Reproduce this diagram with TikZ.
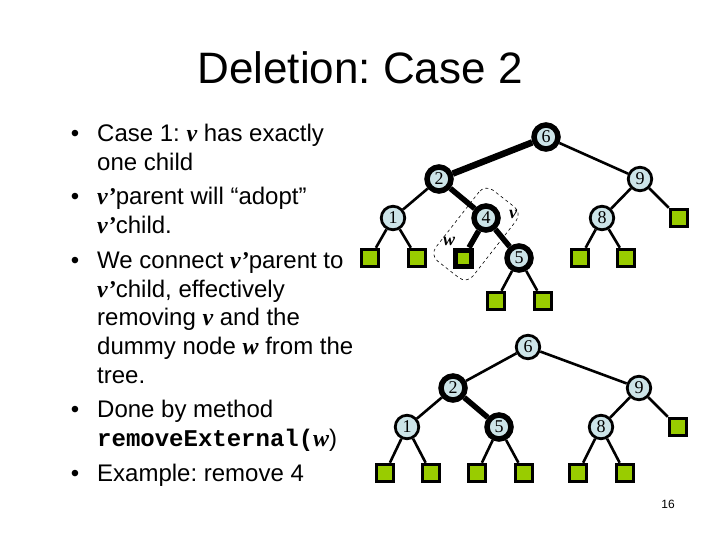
\documentclass[tikz,border=0pt]{standalone}
\usepackage{fontspec}
\setmainfont{Liberation Sans}
\newfontfamily\tnrfont{Liberation Serif}
\newfontfamily\codefont{Liberation Mono}
\usepackage{tikz}
\usetikzlibrary{backgrounds}
\frenchspacing

\definecolor{keyblue}{RGB}{204,228,232}
\definecolor{leafgreen}{RGB}{153,204,0}
\newcommand{\bi}[1]{{\tnrfont\bfseries\itshape #1}}

\begin{document}
\begin{tikzpicture}[x=1pt,y=-1pt]
\tikzstyle{every node}=[inner sep=0pt];
\tikzstyle{key}=[draw,shape=circle,fill=keyblue,minimum size=23.5pt,line width=2.8pt,font=\tnrfont\fontsize{18}{18}\selectfont];
\tikzstyle{hot}=[key,minimum size=24pt,line width=5.5pt];
\tikzstyle{leaf}=[draw,shape=rectangle,fill=leafgreen,minimum size=17.5pt,line width=3pt];
\tikzstyle{edge}=[line width=2.6pt];
\tikzstyle{hot edge}=[line width=5.5pt];
\tikzstyle{item}=[anchor=north west,align=left,font=\fontsize{24}{28.6}\selectfont];
\tikzstyle{tag}=[font=\tnrfont\bfseries\itshape\fontsize{18}{18}\selectfont];
\useasboundingbox (0,0) rectangle (720,540);

% title
\node[font=\fontsize{44}{44}\selectfont,anchor=base] (title) at (360,84) {Deletion: Case 2};

% bullets
\node[item] (b1) at (97,121.5) {\llap{\textbullet\hspace{18pt}}\strut Case 1: \bi{v} has exactly\\one child};
\node[item] (b2) at (97,184.5) {\llap{\textbullet\hspace{18pt}}\strut\bi{v’}parent will “adopt”\\\bi{v’}child.};
\node[item] (b3) at (97,248.5) {\llap{\textbullet\hspace{18pt}}\strut We connect \bi{v’}parent to\\\bi{v’}child, effectively\\removing \bi{v} and the\\dummy node \bi{w} from the\\tree.};
\node[item] (b4) at (97,397.5) {\llap{\textbullet\hspace{18pt}}\strut Done by method\\{\codefont\bfseries removeExternal(}\bi{w})};
\node[item] (b5) at (97,461.5) {\llap{\textbullet\hspace{18pt}}\strut Example: remove 4};

% tree before removal
\node[hot] (t6) at (546,137) {6};
\node[hot] (t2) at (439,179) {2};
\node[key] (t9) at (640,179) {9};
\node[key] (t1) at (393,218) {1};
\node[hot] (t4) at (486,218) {4};
\node[key] (t8) at (602,218) {8};
\node[leaf] (t9r) at (679,218) {};
\node[leaf] (t1l) at (370,258) {};
\node[leaf] (t1r) at (417,258) {};
\node[leaf,line width=5pt,minimum size=16pt] (tw) at (463,258) {};
\node[hot] (t5) at (519,258) {5};
\node[leaf] (t8l) at (580,258) {};
\node[leaf] (t8r) at (626,258) {};
\node[leaf] (t5l) at (496,301) {};
\node[leaf] (t5r) at (543,301) {};
\node[tag] (vtag) at (513,214) {v};
\node[tag] (wtag) at (449,241) {w};
\node[draw,dashed,rounded corners=10pt,minimum width=90pt,minimum height=47pt,rotate=52,line width=0.6pt] (pair) at (476,234) {};

\begin{scope}[on background layer]
\draw[hot edge,line width=6.5pt] (t6) -- (t2);
\draw[hot edge] (t2) -- (t4);
\draw[hot edge] (t4) -- (tw);
\draw[hot edge] (t4) -- (t5);
\draw[edge] (t6) -- (t9);
\draw[edge] (t9) -- (t8);
\draw[edge] (t9) -- (t9r);
\draw[edge] (t2) -- (t1);
\draw[edge] (t1) -- (t1l);
\draw[edge] (t1) -- (t1r);
\draw[edge] (t8) -- (t8l);
\draw[edge] (t8) -- (t8r);
\draw[edge] (t5) -- (t5l);
\draw[edge] (t5) -- (t5r);
\end{scope}

% tree after removal
\node[key] (m6) at (528,347) {6};
\node[hot] (m2) at (453,388) {2};
\node[key] (m9) at (639,388) {9};
\node[key] (m1) at (407,427) {1};
\node[hot] (m5) at (499,427) {5};
\node[key] (m8) at (601,427) {8};
\node[leaf] (m9r) at (678,427) {};
\node[leaf] (m1l) at (385,473) {};
\node[leaf] (m1r) at (431,473) {};
\node[leaf] (m5l) at (477,473) {};
\node[leaf] (m5r) at (524,473) {};
\node[leaf] (m8l) at (578,473) {};
\node[leaf] (m8r) at (625,473) {};

\begin{scope}[on background layer]
\draw[hot edge] (m2) -- (m5);
\draw[edge] (m6) -- (m2);
\draw[edge] (m6) -- (m9);
\draw[edge] (m9) -- (m8);
\draw[edge] (m9) -- (m9r);
\draw[edge] (m2) -- (m1);
\draw[edge] (m1) -- (m1l);
\draw[edge] (m1) -- (m1r);
\draw[edge] (m5) -- (m5l);
\draw[edge] (m5) -- (m5r);
\draw[edge] (m8) -- (m8l);
\draw[edge] (m8) -- (m8r);
\end{scope}

\node[font=\fontsize{12}{12}\selectfont] (page) at (668,504) {16};
\end{tikzpicture}
\end{document}
